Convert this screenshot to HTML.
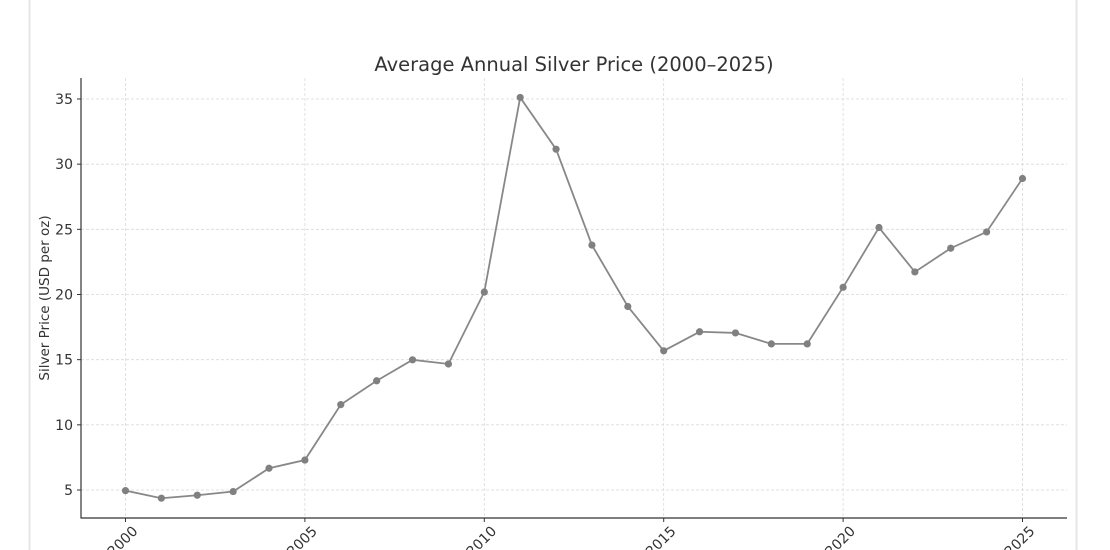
<!DOCTYPE html>
<html><head><meta charset="utf-8"><style>
html,body{margin:0;padding:0;background:#fff;width:1110px;height:550px;overflow:hidden}
svg{display:block;font-family:"DejaVu Sans","Liberation Sans",sans-serif}
</style></head><body>
<svg id="chart" width="1110" height="550">
<line x1="29.5" y1="0" x2="29.5" y2="550" stroke="#e6e6e6" stroke-width="2"/>
<line x1="1076.5" y1="0" x2="1076.5" y2="550" stroke="#e6e6e6" stroke-width="2"/>
<text x="574" y="71" text-anchor="middle" font-size="19.5" fill="#333">Average Annual Silver Price (2000–2025)</text>
<text transform="translate(49,298) rotate(-90)" text-anchor="middle" font-size="13.5" fill="#333">Silver Price (USD per oz)</text>
<g id="grid"></g><g id="axes"></g><g id="series"></g>
</svg>
<script>
const years=[2000,2001,2002,2003,2004,2005,2006,2007,2008,2009,2010,2011,2012,2013,2014,2015,2016,2017,2018,2019,2020,2021,2022,2023,2024,2025];
const prices=[4.95,4.37,4.6,4.88,6.67,7.3,11.55,13.38,14.99,14.67,20.19,35.12,31.15,23.79,19.08,15.68,17.14,17.05,16.21,16.21,20.55,25.14,21.73,23.55,24.8,28.9];
const yTicks=[5,10,15,20,25,30,35];
const xTicks=[2000,2005,2010,2015,2020,2025];
const NS="http://www.w3.org/2000/svg";
const L=81,R=1067,T=78,B=518;
function xs(v){return 125.5+(v-2000)*(1022.5-125.5)/25;}
function ys(v){return 490-(v-5)*(490-99)/30;}
function mk(t,a,p){const e=document.createElementNS(NS,t);for(const k in a)e.setAttribute(k,a[k]);p.appendChild(e);return e;}
const grid=document.getElementById('grid'),axes=document.getElementById('axes'),ser=document.getElementById('series');
yTicks.forEach(v=>{const y=ys(v);
 const g=mk('line',{x1:L,x2:R,y1:y,y2:y,stroke:'#d9d9d9','stroke-dasharray':'3,2','stroke-width':0.8},grid);
 
 
 const tk=mk('line',{x1:L-4,x2:L,y1:y,y2:y,stroke:'#333'},axes);
 
 
 const t=mk('text',{x:L-8,y:y+5,'text-anchor':'end','font-size':14,fill:'#333'},axes);t.textContent=v;
 
 
});
xTicks.forEach(v=>{const x=xs(v);
 const g=mk('line',{x1:x,x2:x,y1:T,y2:B,stroke:'#d9d9d9','stroke-dasharray':'3,2','stroke-width':0.8},grid);
 
 
 const tk=mk('line',{x1:x,x2:x,y1:B,y2:B+4,stroke:'#333'},axes);
 
 
 const t=mk('text',{x:x+13,y:B+14,'text-anchor':'end','font-size':14,fill:'#333',transform:`rotate(-45 ${x+13} ${B+14})`},axes);t.textContent=v;
 
 
});
const ya=mk('line',{x1:L,x2:L,y1:T,y2:B+0.5,stroke:'#333','stroke-width':1.2},axes);


const xa=mk('line',{x1:L,x2:R,y1:B,y2:B,stroke:'#333','stroke-width':1.2},axes);


const pl=mk('polyline',{points:years.map((y,i)=>xs(y)+','+ys(prices[i])).join(' '),fill:'none',stroke:'#888','stroke-width':1.8},ser);


years.forEach((y,i)=>{const c=mk('circle',{cx:xs(y),cy:ys(prices[i]),r:3.6,fill:'#808080'},ser);
 
 
});
</script>
</body></html>
